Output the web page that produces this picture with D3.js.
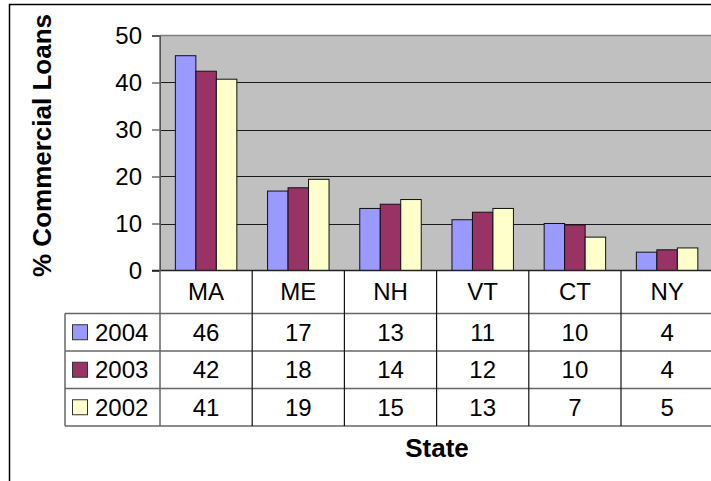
<!DOCTYPE html>
<html>
<head>
<meta charset="utf-8">
<script src="https://cdn.jsdelivr.net/npm/d3@7"></script>
<style>
  body { margin: 0; background: #fff; }
  text { font-family: "Liberation Sans", Arial, sans-serif; }
</style>
</head>
<body>
<script>
'use strict';

// chart data (table shows rounded values)
const states = ["MA", "ME", "NH", "VT", "CT", "NY"];
const years = ["2004", "2003", "2002"];
const values2004 = [45.7, 16.9, 13.2, 10.8, 10.0, 3.9];
const values2003 = [42.4, 17.6, 14.1, 12.4, 9.7, 4.4];
const values2002 = [40.7, 19.4, 15.1, 13.2, 7.1, 4.8];
const yTicks = [0, 10, 20, 30, 40, 50];

const seriesValues = [values2004, values2003, values2002];
const colors = { "2004": "#9999FF", "2003": "#993366", "2002": "#FFFFCC" };

(function() {
  const width = 711, height = 481;
  const svg = d3.select('body').append('svg')
    .attr('width', width)
    .attr('height', height);

  // chart area border
  svg.append('rect')
    .attr('x', 9.5).attr('y', 4.5)
    .attr('width', 760).attr('height', 520)
    .attr('fill', '#fff')
    .attr('stroke', '#000')
    .attr('stroke-width', 1.5);

  const plotLeft = 160, plotRight = 713.2, plotTop = 35.5, plotBottom = 270.5;
  const fontSize = '24px';

  // scales
  let x = d3.scaleBand().domain(states).range([plotLeft, plotRight]).padding(0);
  let xInner = d3.scaleBand().domain(years).range([0, x.bandwidth()])
    .paddingInner(0).paddingOuter(0.75);
  let y = d3.scaleLinear().domain([0, 50]).range([plotBottom, plotTop]);

  // plot background
  svg.append('rect')
    .attr('x', plotLeft).attr('y', plotTop)
    .attr('width', plotRight - plotLeft).attr('height', plotBottom - plotTop)
    .attr('fill', '#C0C0C0');

  svg.append('line')
    .attr('x1', plotLeft).attr('x2', plotRight)
    .attr('y1', plotTop).attr('y2', plotTop)
    .attr('stroke', '#808080').attr('stroke-width', 1.5);

  // gridlines
  svg.append('g').selectAll('line')
    .data(yTicks.filter(d => d > 0 && d < 50))
    .enter().append('line')
    .attr('x1', plotLeft).attr('x2', plotRight)
    .attr('y1', d => Math.round(y(d)) + 0.5).attr('y2', d => Math.round(y(d)) + 0.5)
    .attr('stroke', '#1a1a1a').attr('stroke-width', 1.2);

  // y axis
  let yAxis = d3.axisLeft(y).tickValues(yTicks).tickSize(8).tickPadding(10);
  let gy = svg.append('g')
    .attr('transform', `translate(${plotLeft}, 0)`)
    .call(yAxis);
  gy.select('.domain').attr('stroke', '#222');
  gy.selectAll('.tick line').attr('stroke', '#222');
  gy.selectAll('.tick text')
    .style('font-size', fontSize)
    .attr('fill', '#000');

  // bars
  svg.append('g').selectAll('g')
    .data(years)
    .enter().append('g')
    .each(function(yr, i) {
      d3.select(this).selectAll('rect')
        .data(seriesValues[i])
        .enter().append('rect')
        .attr('x', (d, j) => x(states[j]) + xInner(yr))
        .attr('y', d => y(d))
        .attr('width', xInner.bandwidth())
        .attr('height', d => y(0) - y(d))
        .attr('fill', colors[yr])
        .attr('stroke', '#111')
        .attr('stroke-width', 1);
    });

  // zero line
  svg.append('line')
    .attr('x1', plotLeft - 8).attr('x2', plotRight)
    .attr('y1', plotBottom).attr('y2', plotBottom)
    .attr('stroke', '#222').attr('stroke-width', 1.5);

  // data table
  const legendLeft = 65;
  const headerBottom = 313.5;
  const rowH = 37.5;
  const tableBottom = headerBottom + rowH * years.length;
  const table = svg.append('g');

  // horizontal lines
  table.selectAll('.hline')
    .data(d3.range(years.length + 1))
    .enter().append('line')
    .attr('x1', legendLeft).attr('x2', plotRight)
    .attr('y1', i => headerBottom + i * rowH).attr('y2', i => headerBottom + i * rowH)
    .attr('stroke', '#666').attr('stroke-width', 1.5);

  // vertical lines
  table.append('line')
    .attr('x1', legendLeft).attr('x2', legendLeft)
    .attr('y1', headerBottom).attr('y2', tableBottom)
    .attr('stroke', '#666').attr('stroke-width', 1.5);
  table.append('line')
    .attr('x1', plotLeft).attr('x2', plotLeft)
    .attr('y1', plotTop).attr('y2', tableBottom)
    .attr('stroke', '#666').attr('stroke-width', 1.5);
  table.selectAll('.vline')
    .data(states.slice(1))
    .enter().append('line')
    .attr('x1', d => x(d)).attr('x2', d => x(d))
    .attr('y1', plotBottom).attr('y2', tableBottom)
    .attr('stroke', '#111').attr('stroke-width', 1.2);

  // category labels
  table.selectAll('.cat')
    .data(states)
    .enter().append('text')
    .attr('x', d => x(d) + x.bandwidth() / 2)
    .attr('y', (plotBottom + headerBottom) / 2)
    .attr('dy', '0.35em')
    .attr('text-anchor', 'middle')
    .style('font-size', fontSize)
    .text(d => d);

  // rows
  years.forEach(function(yr, i) {
    let cy = headerBottom + rowH * i + rowH / 2;
    table.append('rect')
      .attr('x', 72.5).attr('y', cy - 7.5)
      .attr('width', 15).attr('height', 15)
      .attr('fill', colors[yr])
      .attr('stroke', '#333').attr('stroke-width', 1);
    table.append('text')
      .attr('x', 95).attr('y', cy)
      .attr('dy', '0.35em')
      .style('font-size', fontSize)
      .text(yr);
    table.selectAll('.v' + yr)
      .data(seriesValues[i])
      .enter().append('text')
      .attr('x', (d, j) => x(states[j]) + x.bandwidth() / 2)
      .attr('y', cy)
      .attr('dy', '0.35em')
      .attr('text-anchor', 'middle')
      .style('font-size', fontSize)
      .text(d => d3.format('.0f')(d));
  });

  // axis titles
  svg.append('text')
    .attr('x', 437).attr('y', 457)
    .attr('text-anchor', 'middle')
    .style('font-size', '26px')
    .style('font-weight', 'bold')
    .text('State');

  svg.append('text')
    .attr('transform', 'translate(51, 145.5)rotate(-90)')
    .attr('text-anchor', 'middle')
    .style('font-size', '26px')
    .style('font-weight', 'bold')
    .text('% Commercial Loans');
})();
</script>
</body>
</html>
